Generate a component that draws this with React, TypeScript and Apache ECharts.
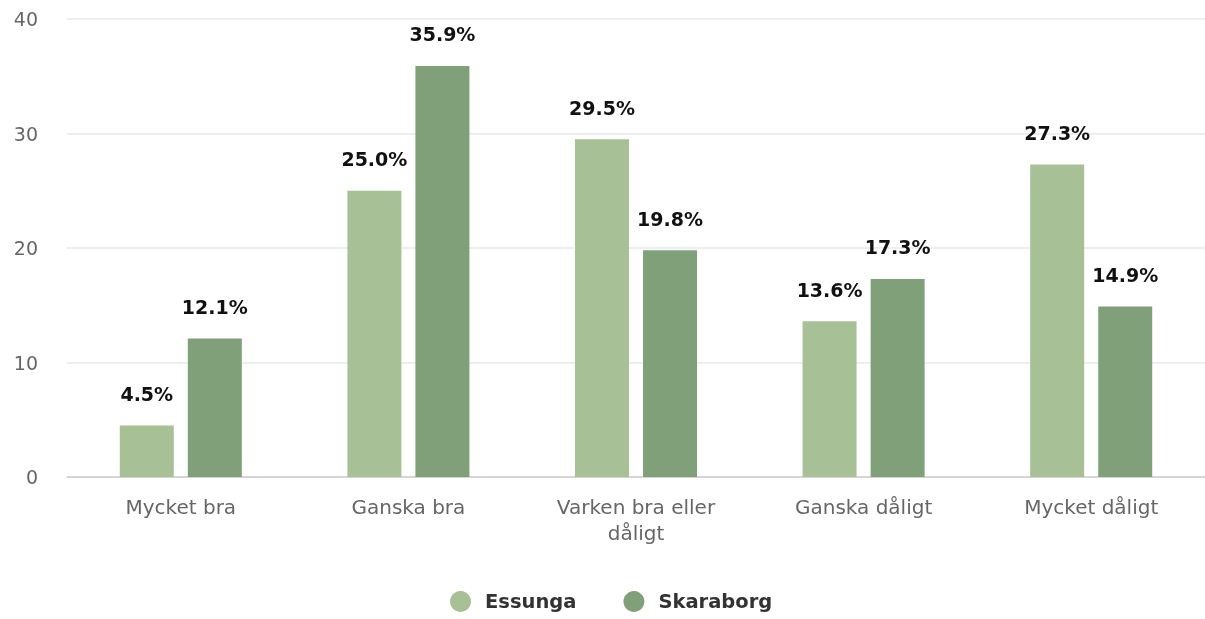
import React, { useEffect, useRef } from "react";
import * as echarts from "echarts";

const categories = ["Mycket bra", "Ganska bra", "Varken bra eller\ndåligt", "Ganska dåligt", "Mycket dåligt"];
const seriesNames = ["Essunga", "Skaraborg"];
const essunga = [4.5, 25.0, 29.5, 13.6, 27.3];
const skaraborg = [12.1, 35.9, 19.8, 17.3, 14.9];
const colors = ["#a8c096", "#80a07a"];
const FONT = "DejaVu Sans";

export default function App() {
  const ref = useRef<HTMLDivElement>(null);
  useEffect(() => {
    if (!ref.current) return;
    const chart = echarts.init(ref.current, undefined, { renderer: "svg" });
    const mkSeries = (name: string, data: number[], color: string) => ({
      name,
      type: "bar",
      data,
      barWidth: 54,
      barGap: "26%",
      itemStyle: { color },
      label: {
        show: true,
        position: "top",
        distance: 22,
        formatter: (p: any) => p.value.toFixed(1) + "%",
        color: "#111",
        fontFamily: FONT,
        fontWeight: "bold",
        fontSize: 19,
      },
    });
    chart.setOption({
      animation: false,
      textStyle: { fontFamily: FONT },
      grid: { left: 67, right: 0, top: 19, bottom: 142, containLabel: false },
      legend: {
        top: 586,
        left: 445,
        icon: "circle",
        itemWidth: 21,
        itemHeight: 21,
        itemGap: 47,
        data: seriesNames,
        textStyle: { fontFamily: FONT, fontWeight: "bold", fontSize: 19.5, color: "#333", padding: [0, 0, 0, 9] },
      },
      xAxis: {
        type: "category",
        data: categories,
        axisTick: { show: false },
        axisLine: { lineStyle: { color: "#ccc", width: 1.5 } },
        axisLabel: { color: "#666", fontSize: 20, fontFamily: FONT, margin: 17, lineHeight: 26, interval: 0 },
      },
      yAxis: {
        type: "value",
        min: 0,
        max: 40,
        interval: 10,
        axisLabel: { color: "#666", fontSize: 19, fontFamily: FONT, margin: 29 },
        splitLine: { lineStyle: { color: "#e8e8e8", width: 1.5 } },
      },
      series: [mkSeries(seriesNames[0], essunga, colors[0]), mkSeries(seriesNames[1], skaraborg, colors[1])],
    });
    return () => chart.dispose();
  }, []);
  return <div ref={ref} style={{ position: "fixed", left: 0, top: 0, width: 1205, height: 619 }} />;
}
